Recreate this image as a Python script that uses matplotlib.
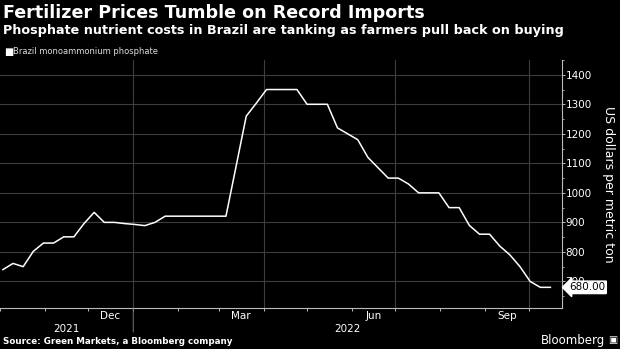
import numpy as np
import pandas as pd
import matplotlib
matplotlib.use("Agg")
import matplotlib.pyplot as plt
import matplotlib.dates as mdates

# --- Data (weekly prices) ---
START_DATE = "2021-10-03"
PRICES = [740, 761, 750, 802, 830, 830, 851, 851, 896, 934,
          900, 900, 896, 893, 889, 900, 921, 921, 921, 921,
          921, 921, 921, 1090, 1260, 1304, 1350, 1350, 1350, 1350,
          1300, 1300, 1300, 1220, 1200, 1180, 1120, 1085, 1050, 1050,
          1030, 1000, 1000, 1000, 950, 950, 890, 860, 860, 820,
          790, 750, 700, 680, 680]
Y_TICKS = [700, 800, 900, 1000, 1100, 1200, 1300, 1400]
MONTH_LABELS = ["Dec", "Mar", "Jun", "Sep"]
MONTH_LABEL_DATES = ["2021-12-16", "2022-03-16", "2022-06-16", "2022-09-16"]
YEAR_LABELS = ["2021", "2022"]
LAST_LABEL = "680.00"

TITLE = "Fertilizer Prices Tumble on Record Imports"
SUBTITLE = "Phosphate nutrient costs in Brazil are tanking as farmers pull back on buying"
SERIES_NAME = "Brazil monoammonium phosphate"
Y_LABEL = "US dollars per metric ton"
SOURCE = "Source: Green Markets, a Bloomberg company"

dates = pd.date_range(START_DATE, periods=len(PRICES), freq="7D")

BG = "black"
FG = "white"
GRID = "#3d3d3d"
W, H = 620, 349

fig = plt.figure(figsize=(W / 100, H / 100), dpi=100, facecolor=BG)
ax = fig.add_axes([0 / W, (H - 308) / H, 562 / W, (308 - 60) / H], facecolor=BG)

ax.plot(dates, PRICES, color=FG, lw=1.1, solid_joinstyle="round")

x0 = pd.Timestamp("2021-10-01")
x1 = pd.Timestamp("2022-10-24")
ax.set_xlim(x0, x1)
ax.set_ylim(610, 1424)

# gridlines
ax.set_yticks(Y_TICKS)
ax.set_yticks(np.arange(650, 1451, 100), minor=True)
for y in Y_TICKS:
    ax.axhline(y, color=GRID, lw=0.8, zorder=0)
for d in ["2022-01-01", "2022-04-01", "2022-07-01", "2022-10-01"]:
    ax.axvline(pd.Timestamp(d), color=GRID, lw=0.8, zorder=0)

# spines
for s in ["top", "left"]:
    ax.spines[s].set_visible(False)
for s in ["bottom", "right"]:
    ax.spines[s].set_color("#bbbbbb")
    ax.spines[s].set_linewidth(0.8)

# y axis on right
ax.yaxis.tick_right()
ax.tick_params(axis="y", which="major", colors="#bbbbbb", labelcolor=FG,
               length=2, width=0.7, labelsize=7.5, pad=0.5)
ax.tick_params(axis="y", which="minor", colors="#bbbbbb", length=1.5, width=0.6)
ax.set_yticklabels([str(v) for v in Y_TICKS])
ax.yaxis.set_label_position("right")
ax.set_ylabel(Y_LABEL, color=FG, rotation=-90, fontsize=9, labelpad=17)

# x axis: ticks at month starts, labels at month centres
ax.xaxis.set_major_locator(mdates.MonthLocator())
ax.xaxis.set_major_formatter(plt.NullFormatter())
ax.tick_params(axis="x", which="major", colors="#bbbbbb", length=2.5, width=0.7)
for lab, d in zip(MONTH_LABELS, MONTH_LABEL_DATES):
    ax.annotate(lab, xy=(pd.Timestamp(d), 0), xycoords=("data", "axes fraction"),
                xytext=(0, -2.5), textcoords="offset points",
                ha="center", va="top", color=FG, fontsize=7.5)

# year separator and year labels
jan1 = pd.Timestamp("2022-01-01")
ax.annotate("", xy=(jan1, 0), xycoords=("data", "axes fraction"),
            xytext=(jan1, -24 / 248), textcoords=("data", "axes fraction"),
            arrowprops=dict(arrowstyle="-", color="#777777", lw=0.7,
                            shrinkA=0, shrinkB=0))
yr_mid = [x0 + (jan1 - x0) / 2, jan1 + (x1 - jan1) / 2]
for lab, d in zip(YEAR_LABELS, yr_mid):
    ax.annotate(lab, xy=(d, 0), xycoords=("data", "axes fraction"),
                xytext=(0, -11.5), textcoords="offset points",
                ha="center", va="top", color=FG, fontsize=7.5)

# last value tag
ax.annotate(LAST_LABEL, xy=(1.0, PRICES[-1]), xycoords=("axes fraction", "data"),
            xytext=(5, 0), textcoords="offset points", ha="left", va="center",
            fontsize=7.5, color="black", annotation_clip=False,
            bbox=dict(boxstyle="larrow,pad=0.12", fc=FG, ec=FG), zorder=5)

# titles / legend / footer
fig.text(3 / W, 1 - 12.5 / H, TITLE, color=FG, fontsize=12.6, fontweight="bold",
         ha="left", va="center")
fig.text(3 / W, 1 - 30.5 / H, SUBTITLE, color=FG, fontsize=9.15, fontweight="bold",
         ha="left", va="center")
fig.text(4 / W, 1 - 51.5 / H, "\u25a0", color=FG, fontsize=7, ha="left", va="center")
fig.text(13 / W, 1 - 51.5 / H, SERIES_NAME, color="#dddddd", fontsize=6,
         ha="left", va="center")
fig.text(3 / W, 1 - 342 / H, SOURCE, color=FG, fontsize=6.3, fontweight="bold",
         ha="left", va="center")
fig.text(605 / W, 1 - 340.5 / H, "Bloomberg", color=FG, fontsize=8.5,
         ha="right", va="center")
fig.text(617 / W, 1 - 340 / H, "\u25a3", color=FG, fontsize=7,
         ha="right", va="center")

fig.savefig("out.png", dpi=100, facecolor=BG)
